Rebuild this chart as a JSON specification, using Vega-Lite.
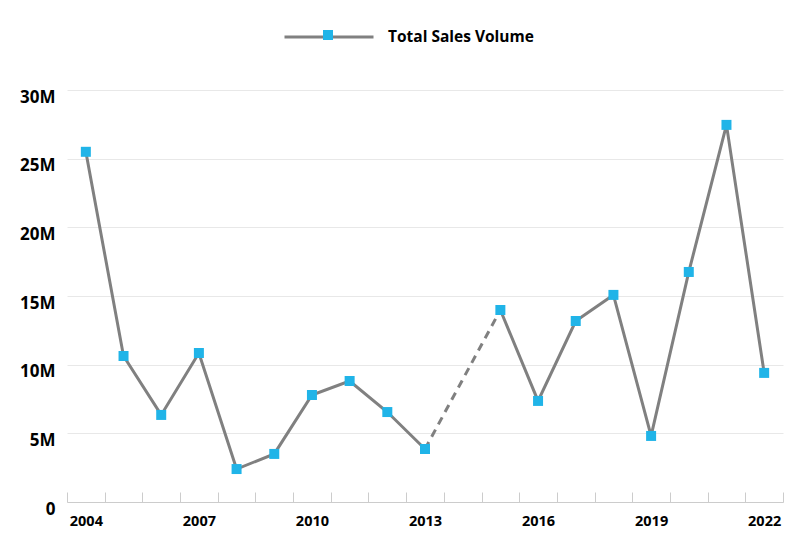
{
  "$schema": "https://vega.github.io/schema/vega-lite/v6.json",
  "width": 716,
  "height": 412,
  "autosize": {"type": "none"},
  "padding": {"left": 67, "top": 90, "right": 17, "bottom": 50},
  "background": "white",
  "config": {
    "view": {"stroke": null},
    "font": "Open Sans"
  },
  "data": {
    "values": [
      {"year": 2004, "sales": 25500000},
      {"year": 2005, "sales": 10630000},
      {"year": 2006, "sales": 6340000},
      {"year": 2007, "sales": 10850000},
      {"year": 2008, "sales": 2400000},
      {"year": 2009, "sales": 3500000},
      {"year": 2010, "sales": 7790000},
      {"year": 2011, "sales": 8810000},
      {"year": 2012, "sales": 6550000},
      {"year": 2013, "sales": 3860000},
      {"year": 2014, "sales": null},
      {"year": 2015, "sales": 13980000},
      {"year": 2016, "sales": 7360000},
      {"year": 2017, "sales": 13180000},
      {"year": 2018, "sales": 15080000},
      {"year": 2019, "sales": 4810000},
      {"year": 2020, "sales": 16750000},
      {"year": 2021, "sales": 27460000},
      {"year": 2022, "sales": 9400000}
    ]
  },
  "encoding": {
    "x": {
      "field": "year",
      "type": "ordinal",
      "scale": {
        "type": "band",
        "paddingInner": 0,
        "paddingOuter": 0,
        "domain": [2004, 2005, 2006, 2007, 2008, 2009, 2010, 2011, 2012, 2013, 2014, 2015, 2016, 2017, 2018, 2019, 2020, 2021, 2022]
      },
      "axis": {
        "title": null,
        "labelAngle": 0,
        "tickBand": "extent",
        "tickSize": -10,
        "tickColor": "#cccccc",
        "domainColor": "#cccccc",
        "labelPadding": 22,
        "labelFontSize": 14.5,
        "labelFontWeight": "bold",
        "labelColor": "#000000",
        "labelExpr": "(datum.value - 2004) % 3 == 0 ? datum.label : ''",
        "grid": false
      }
    },
    "y": {
      "field": "sales",
      "type": "quantitative",
      "scale": {"domain": [0, 30000000], "nice": false},
      "axis": {
        "title": null,
        "values": [0, 5000000, 10000000, 15000000, 20000000, 25000000, 30000000],
        "labelExpr": "datum.value == 0 ? '0' : (datum.value / 1000000) + 'M'",
        "domain": false,
        "ticks": false,
        "grid": true,
        "gridColor": "#e8e8e8",
        "labelFontSize": 17,
        "labelFontWeight": "bold",
        "labelColor": "#000000",
        "labelPadding": 12,
        "labelOffset": 7
      }
    }
  },
  "layer": [
    {
      "mark": {"type": "line", "strokeWidth": 3, "invalid": "break-paths-show-domains"},
      "encoding": {
        "stroke": {
          "datum": "Total Sales Volume",
          "type": "nominal",
          "scale": {"range": ["#808080"]},
          "legend": {
            "title": null,
            "orient": "none",
            "legendX": 216,
            "legendY": -99,
            "symbolType": "stroke",
            "symbolSize": 7921,
            "symbolStrokeWidth": 3,
            "labelFontSize": 15.5,
            "labelFontWeight": "bold",
            "labelColor": "#000000",
            "labelOffset": 13
          }
        }
      }
    },
    {
      "transform": [{"filter": "datum.year == 2013 || datum.year == 2015"}],
      "mark": {"type": "line", "strokeWidth": 3, "color": "#808080", "strokeDash": [8, 6]},
      "encoding": {}
    },
    {
      "mark": {"type": "point", "shape": "square", "filled": true, "size": 100, "opacity": 1},
      "encoding": {
        "fill": {
          "datum": "marker",
          "type": "nominal",
          "scale": {"range": ["#20B4E8"]},
          "legend": {
            "title": null,
            "orient": "none",
            "legendX": 256,
            "legendY": -60,
            "symbolType": "square",
            "symbolSize": 100,
            "symbolStrokeWidth": 0,
            "symbolOpacity": 1,
            "labelExpr": "''",
            "labelOffset": 0
          }
        }
      }
    }
  ]
}
